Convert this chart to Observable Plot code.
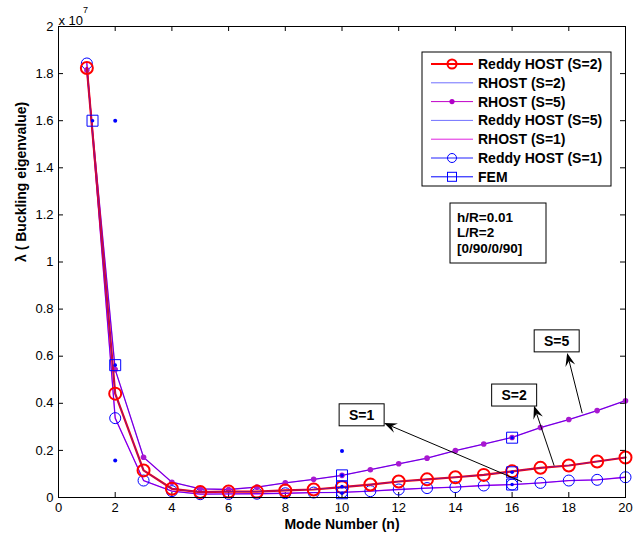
<!DOCTYPE html>
<html><head><meta charset="utf-8">
<script src="https://cdn.jsdelivr.net/npm/d3@7"></script>
<script src="https://cdn.jsdelivr.net/npm/@observablehq/plot@0.6"></script>
<style>html,body{margin:0;padding:0;background:#fff;overflow:hidden}</style>
</head><body><div id="chart"></div>
<script>
// ---- data (values in units of 10^7) ----
const modes = [1,2,3,4,5,6,7,8,9,10,11,12,13,14,15,16,17,18,19,20];
const reddyS2 = [1.824,0.441,0.115,0.037,0.023,0.025,0.025,0.030,0.034,0.044,0.055,0.068,0.077,0.086,0.096,0.111,0.126,0.136,0.153,0.170];
const rhostS2 = [1.824,0.441,0.115,0.037,0.023,0.025,0.025,0.030,0.034,0.044,0.055,0.068,0.077,0.086,0.096,0.111,0.126,0.136,0.153,0.170];
const rhostS5 = [1.815,0.543,0.171,0.065,0.037,0.034,0.044,0.062,0.077,0.094,0.118,0.143,0.167,0.199,0.227,0.255,0.297,0.331,0.369,0.411];
const reddyS5 = [1.815,0.543,0.171,0.065,0.037,0.034,0.044,0.062,0.077,0.094,0.118,0.143,0.167,0.199,0.227,0.255,0.297,0.331,0.369,0.411];
const rhostS1 = [1.843,0.337,0.072,0.027,0.014,0.015,0.016,0.018,0.021,0.022,0.027,0.034,0.040,0.044,0.051,0.055,0.062,0.072,0.075,0.086];
const reddyS1 = [1.843,0.337,0.072,0.027,0.014,0.015,0.016,0.018,0.021,0.022,0.027,0.034,0.040,0.044,0.051,0.055,0.062,0.072,0.075,0.086];
const femN = [1.2,2,10,10,10,16,16,16];
const femV = [1.6,0.562,0.094,0.046,0.018,0.254,0.107,0.055];
const strayN = [2,2,10];
const strayV = [1.6,0.157,0.197];
const xTicks = [0,2,4,6,8,10,12,14,16,18,20];
const yTicks = [0,0.2,0.4,0.6,0.8,1,1.2,1.4,1.6,1.8,2];
const legendLabels = ["Reddy HOST (S=2)","RHOST (S=2)","RHOST (S=5)","Reddy HOST (S=5)","RHOST (S=1)","Reddy HOST (S=1)","FEM"];
const noteLines = ["h/R=0.01","L/R=2","[0/90/0/90]"];
const annoLabels = ["S=1","S=2","S=5"];
const annoN = [10.71,16.09,17.59];
const annoV = [0.349,0.433,0.663];
const arrowFromN = [16.36,17.5,18.49];
const arrowFromV = [0.065,0.133,0.356];
const arrowToN = [11.5,16.79,17.96];
const arrowToV = [0.314,0.387,0.611];

// ---- layout ----
const W = 634, H = 535, mL = 58, mR = 9, mT = 26, mB = 38;
const pw = W - mL - mR, ph = H - mT - mB;
const FONT = "'Liberation Sans', Arial, Helvetica, sans-serif";

const series = vals => modes.map((n, i) => ({n, v: vals[i]}));
const femData = femN.map((n, i) => ({n, v: femV[i]}));
const strayData = strayN.map((n, i) => ({n, v: strayV[i]}));

const legendStyles = [
  {color: "#ff0000", width: 2, marker: "circle", mcolor: "#ff0000", mw: 2},
  {color: "#7070ff", width: 1},
  {color: "#c000c8", width: 1, marker: "dot", mcolor: "#b000c8"},
  {color: "#7070ff", width: 1},
  {color: "#e020e0", width: 1},
  {color: "#2020ff", width: 1, marker: "circle", mcolor: "#0000ff", mw: 1},
  {color: "#0000ff", width: 1, marker: "square", mcolor: "#0000ff"}
];

function overlay(index, scales) {
  const {x, y} = scales;
  const g = d3.create("svg:g").attr("font-family", FONT).attr("font-weight", "bold").attr("fill", "#000");
  // arrows
  annoLabels.forEach((lab, i) => {
    const x1 = x(arrowFromN[i]), y1 = y(arrowFromV[i]);
    const x2 = x(arrowToN[i]), y2 = y(arrowToV[i]);
    const a = Math.atan2(y2 - y1, x2 - x1);
    const ca = Math.cos(a), sa = Math.sin(a);
    const p = (u, w) => [x2 + u * ca - w * sa, y2 + u * sa + w * ca];
    const back = p(-8, 0);
    g.append("line").attr("x1", x1).attr("y1", y1).attr("x2", back[0]).attr("y2", back[1])
      .attr("stroke", "#000").attr("stroke-width", 1);
    const pts = [p(0, 0), p(-13, -5), p(-8, 0), p(-13, 5)];
    g.append("polygon").attr("points", pts.map(q => q.join(",")).join(" ")).attr("fill", "#000");
  });
  // label boxes
  annoLabels.forEach((lab, i) => {
    const cx = x(annoN[i]), cy = y(annoV[i]);
    g.append("rect").attr("x", cx - 22.5).attr("y", cy - 11).attr("width", 45).attr("height", 22)
      .attr("fill", "#fff").attr("stroke", "#000").attr("stroke-width", 1);
    g.append("text").attr("x", cx).attr("y", cy).attr("dy", "0.36em").attr("text-anchor", "middle")
      .attr("font-size", 14).text(lab);
  });
  // legend
  g.append("rect").attr("x", 422).attr("y", 52).attr("width", 189).attr("height", 134)
    .attr("fill", "#fff").attr("stroke", "#000").attr("stroke-width", 1);
  legendLabels.forEach((lab, i) => {
    const cy = 64 + i * 18.8, s = legendStyles[i];
    g.append("line").attr("x1", 431).attr("x2", 473).attr("y1", cy).attr("y2", cy)
      .attr("stroke", s.color).attr("stroke-width", s.width);
    if (s.marker === "circle") g.append("circle").attr("cx", 452).attr("cy", cy).attr("r", 4.5)
      .attr("fill", "none").attr("stroke", s.mcolor).attr("stroke-width", s.mw);
    if (s.marker === "dot") g.append("circle").attr("cx", 452).attr("cy", cy).attr("r", 2.6).attr("fill", s.mcolor);
    if (s.marker === "square") g.append("rect").attr("x", 447.5).attr("y", cy - 4.5).attr("width", 9).attr("height", 9)
      .attr("fill", "none").attr("stroke", s.mcolor);
    g.append("text").attr("x", 478).attr("y", cy).attr("dy", "0.36em").attr("text-anchor", "start")
      .attr("font-size", 14).text(lab);
  });
  // note box
  g.append("rect").attr("x", 450).attr("y", 203).attr("width", 96).attr("height", 60)
    .attr("fill", "#fff").attr("stroke", "#000").attr("stroke-width", 1);
  noteLines.forEach((t, i) => {
    g.append("text").attr("x", 457).attr("y", 216.7 + i * 15.7).attr("dy", "0.36em").attr("text-anchor", "start")
      .attr("font-size", 13.5).text(t);
  });
  return g.node();
}

const chart = Plot.plot({
  width: W, height: H, marginLeft: mL, marginRight: mR, marginTop: mT, marginBottom: mB,
  style: {fontFamily: FONT, fontSize: "13px", color: "#000", background: "#fff", overflow: "visible"},
  x: {domain: [0, 20]},
  y: {domain: [0, 2]},
  marks: [
    Plot.axisX(xTicks, {tickSize: 0, tickPadding: 5, fontSize: 13, label: null, tickFormat: d => String(d)}),
    Plot.axisY(yTicks, {tickSize: 0, tickPadding: 5, fontSize: 13, label: null, tickFormat: d3.format("~g")}),
    Plot.tickX(xTicks, {x: d => d, insetTop: ph - 5, stroke: "#000"}),
    Plot.tickX(xTicks, {x: d => d, insetBottom: ph - 5, stroke: "#000"}),
    Plot.tickY(yTicks, {y: d => d, insetRight: pw - 5, stroke: "#000"}),
    Plot.tickY(yTicks, {y: d => d, insetLeft: pw - 5, stroke: "#000"}),
    // S=1
    Plot.line(series(rhostS1), {x: "n", y: "v", stroke: "#e000e0", strokeWidth: 1.3}),
    Plot.line(series(reddyS1), {x: "n", y: "v", stroke: "#0000ff", strokeWidth: 1, strokeOpacity: 0.55}),
    Plot.dot(series(reddyS1), {x: "n", y: "v", r: 5.5, stroke: "#0000ff", strokeWidth: 1, fill: "none"}),
    // S=5
    Plot.line(series(rhostS5), {x: "n", y: "v", stroke: "#b800d8", strokeWidth: 1.3}),
    Plot.line(series(reddyS5), {x: "n", y: "v", stroke: "#0000ff", strokeWidth: 1, strokeOpacity: 0.45}),
    Plot.dot(series(rhostS5), {x: "n", y: "v", r: 2.8, fill: "#a818d0"}),
    // S=2
    Plot.line(series(reddyS2), {x: "n", y: "v", stroke: "#ff0000", strokeWidth: 2.2}),
    Plot.line(series(rhostS2), {x: "n", y: "v", stroke: "#2020ff", strokeWidth: 0.9, strokeOpacity: 0.6}),
    Plot.dot(series(reddyS2), {x: "n", y: "v", r: 6, stroke: "#ff0000", strokeWidth: 2, fill: "none"}),
    // FEM
    Plot.dot(femData, {x: "n", y: "v", symbol: "square", r: 6.2, stroke: "#0000ff", strokeWidth: 1, fill: "none"}),
    Plot.dot(femData, {x: "n", y: "v", r: 1.8, fill: "#0000ff"}),
    Plot.dot(strayData, {x: "n", y: "v", r: 2, fill: "#0000ff"}),
    Plot.frame({stroke: "#000", strokeWidth: 1}),
    // titles
    Plot.text(["Mode Number (n)"], {text: d => d, frameAnchor: "bottom", dy: 31, fontWeight: "bold", fontSize: 14}),
    Plot.text(["λ ( Buckling eigenvalue)"], {text: d => d, frameAnchor: "left", dx: -37, rotate: -90, fontWeight: "bold", fontSize: 14}),
    Plot.text(["x 10"], {text: d => d, frameAnchor: "top-left", dy: -11, textAnchor: "start", fontSize: 13}),
    Plot.text(["7"], {text: d => d, frameAnchor: "top-left", dx: 24.5, dy: -20, textAnchor: "start", fontSize: 9}),
    overlay
  ]
});
document.getElementById("chart").appendChild(chart);
</script>
</body></html>
